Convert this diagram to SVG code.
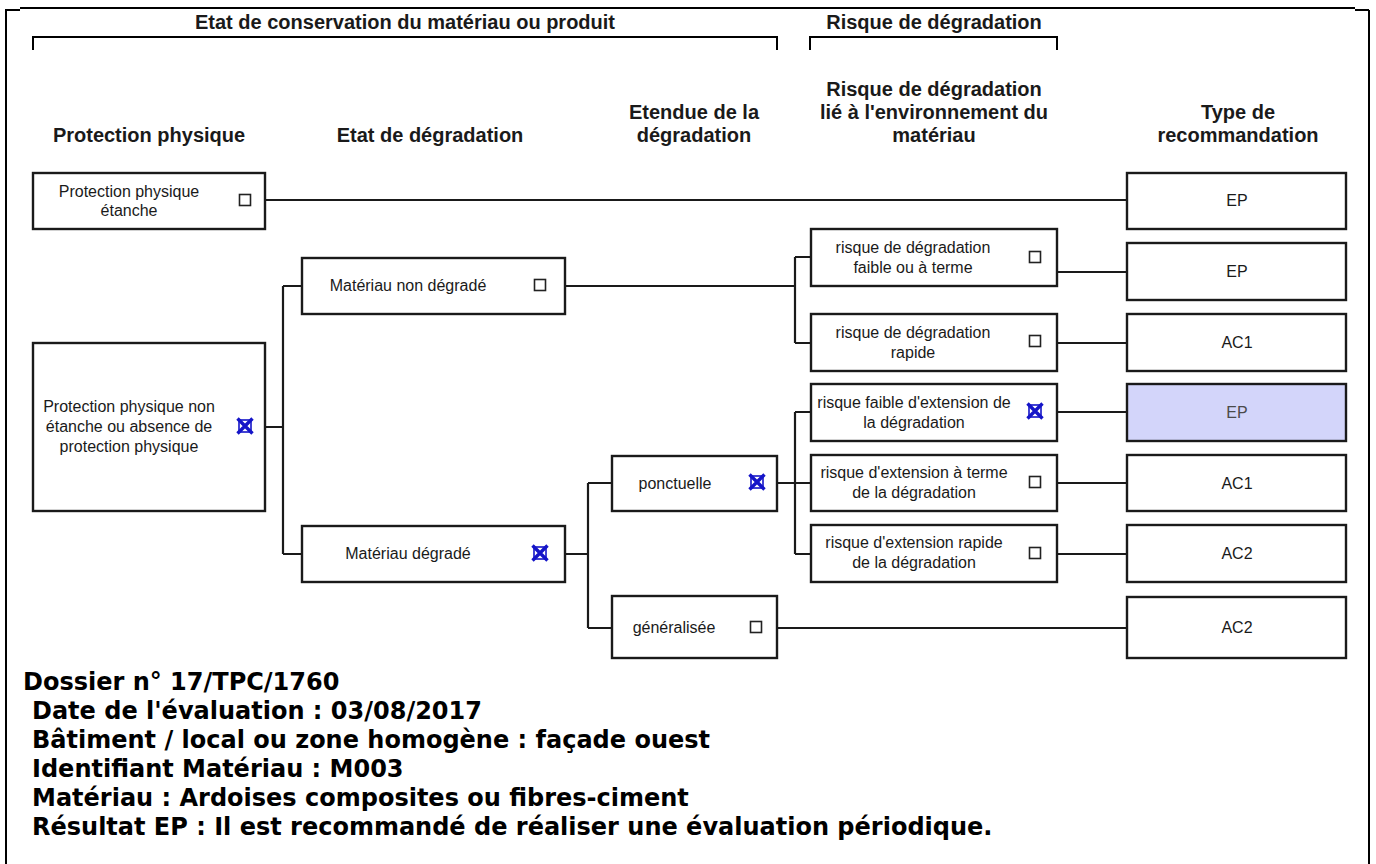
<svg xmlns="http://www.w3.org/2000/svg" width="1376" height="864" viewBox="0 0 1376 864">
<style>
.box{fill:#fff;stroke:#1a1a1a;stroke-width:2.4}
.hl{fill:#d3d5fa}
.t{font-family:"Liberation Sans",Arial,sans-serif;font-size:16px;fill:#1a1a1a;text-anchor:middle}
.g{fill:#4a4a4a}
.h{font-family:"Liberation Sans",Arial,sans-serif;font-size:20px;font-weight:bold;fill:#1a1a1a;text-anchor:middle}
.c{fill:none;stroke:#1a1a1a;stroke-width:2.2}
.fr{fill:none;stroke:#000;stroke-width:2}
.info{font-family:"DejaVu Sans",Verdana,sans-serif;font-size:24px;font-weight:bold;fill:#000}
</style>
<defs>
<g id="cb"><rect x="-5.5" y="-5.5" width="11" height="11" fill="#fff" stroke="#222" stroke-width="1.6"/></g>
<g id="ck"><rect x="-6" y="-6" width="12" height="12" fill="none" stroke="#1515c8" stroke-width="1.6"/><path d="M-7.5,-7.5 L7.5,7.5 M7.5,-7.5 L-7.5,7.5" stroke="#1515c8" stroke-width="3.4"/></g>
</defs>
<rect width="1376" height="864" fill="#fff"/>
<g id="frame">
<path class="fr" d="M6,864 V10 H20 M20,8 H1355 M1355,10 H1369 M1369,10 V864"/>
</g>
<g id="headers">
<text class="h" x="405" y="29">Etat de conservation du matériau ou produit</text>
<path class="fr" d="M33,50 V37 H777 V50"/>
<text class="h" x="934" y="29">Risque de dégradation</text>
<path class="fr" d="M810,50 V37 H1057 V50"/>
<text class="h" x="149" y="142">Protection physique</text>
<text class="h" x="430" y="142">Etat de dégradation</text>
<text class="h" x="694" y="119">Etendue de la</text>
<text class="h" x="694" y="142">dégradation</text>
<text class="h" x="934" y="96">Risque de dégradation</text>
<text class="h" x="934" y="119">lié à l'environnement du</text>
<text class="h" x="934" y="142">matériau</text>
<text class="h" x="1238" y="119">Type de</text>
<text class="h" x="1238" y="142">recommandation</text>
</g>
<g id="connectors">
<path class="c" d="M265,200 H1127"/>
<path class="c" d="M265,427 H283 M283,286 V554 M283,286 H302 M283,554 H302"/>
<path class="c" d="M565,286 H795 M795,257 V343 M795,257 H811 M795,343 H811"/>
<path class="c" d="M565,554 H588 M588,483 V628 M588,483 H612 M588,628 H612"/>
<path class="c" d="M777,483 H795 M795,412 V554 M795,412 H811 M795,483 H811 M795,554 H811"/>
<path class="c" d="M777,628 H1127"/>
<path class="c" d="M1057,272 H1127 M1057,343 H1127 M1057,412 H1127 M1057,483 H1127 M1057,554 H1127"/>
</g>
<g id="n-pp-etanche">
<rect class="box" x="33" y="173" width="232" height="56"/>
<text class="t" x="129" y="197">Protection physique</text>
<text class="t" x="129" y="216">étanche</text>
<use href="#cb" x="245" y="200"/>
</g>
<g id="n-pp-non-etanche">
<rect class="box" x="33" y="343" width="232" height="168"/>
<text class="t" x="129" y="412">Protection physique non</text>
<text class="t" x="129" y="432">étanche ou absence de</text>
<text class="t" x="129" y="452">protection physique</text>
<use href="#ck" x="245" y="426"/>
</g>
<g id="n-non-degrade">
<rect class="box" x="302" y="258" width="263" height="56"/>
<text class="t" x="408" y="291">Matériau non dégradé</text>
<use href="#cb" x="540" y="285"/>
</g>
<g id="n-degrade">
<rect class="box" x="302" y="526" width="263" height="56"/>
<text class="t" x="408" y="559">Matériau dégradé</text>
<use href="#ck" x="540" y="553"/>
</g>
<g id="n-ponctuelle">
<rect class="box" x="612" y="456" width="165" height="55"/>
<text class="t" x="675" y="489">ponctuelle</text>
<use href="#ck" x="757" y="482"/>
</g>
<g id="n-generalisee">
<rect class="box" x="612" y="596" width="165" height="62"/>
<text class="t" x="674" y="633">généralisée</text>
<use href="#cb" x="756" y="627"/>
</g>
<g id="n-r1">
<rect class="box" x="811" y="229" width="246" height="57"/>
<text class="t" x="913" y="253">risque de dégradation</text>
<text class="t" x="913" y="273">faible ou à terme</text>
<use href="#cb" x="1035" y="257"/>
</g>
<g id="n-r2">
<rect class="box" x="811" y="314" width="246" height="57"/>
<text class="t" x="913" y="338">risque de dégradation</text>
<text class="t" x="913" y="358">rapide</text>
<use href="#cb" x="1035" y="341"/>
</g>
<g id="n-r3">
<rect class="box" x="811" y="384" width="246" height="57"/>
<text class="t" x="914" y="408">risque faible d'extension de</text>
<text class="t" x="914" y="428">la dégradation</text>
<use href="#ck" x="1035" y="411"/>
</g>
<g id="n-r4">
<rect class="box" x="811" y="455" width="246" height="56"/>
<text class="t" x="914" y="478">risque d'extension à terme</text>
<text class="t" x="914" y="498">de la dégradation</text>
<use href="#cb" x="1035" y="482"/>
</g>
<g id="n-r5">
<rect class="box" x="811" y="525" width="246" height="57"/>
<text class="t" x="914" y="548">risque d'extension rapide</text>
<text class="t" x="914" y="568">de la dégradation</text>
<use href="#cb" x="1035" y="553"/>
</g>
<g id="rec-1"><rect class="box" x="1127" y="173" width="219" height="56"/><text class="t" x="1237" y="206">EP</text></g>
<g id="rec-2"><rect class="box" x="1127" y="243" width="219" height="57"/><text class="t" x="1237" y="277">EP</text></g>
<g id="rec-3"><rect class="box" x="1127" y="314" width="219" height="57"/><text class="t" x="1237" y="348">AC1</text></g>
<g id="rec-4"><rect class="box hl" x="1127" y="384" width="219" height="57"/><text class="t g" x="1237" y="418">EP</text></g>
<g id="rec-5"><rect class="box" x="1127" y="455" width="219" height="56"/><text class="t" x="1237" y="489">AC1</text></g>
<g id="rec-6"><rect class="box" x="1127" y="525" width="219" height="57"/><text class="t" x="1237" y="559">AC2</text></g>
<g id="rec-7"><rect class="box" x="1127" y="597" width="219" height="61"/><text class="t" x="1237" y="633">AC2</text></g>
<g id="info">
<text class="info" x="23" y="690">Dossier n° 17/TPC/1760</text>
<text class="info" x="32" y="719">Date de l'évaluation : 03/08/2017</text>
<text class="info" x="32" y="748">Bâtiment / local ou zone homogène : façade ouest</text>
<text class="info" x="32" y="777">Identifiant Matériau : M003</text>
<text class="info" x="32" y="806">Matériau : Ardoises composites ou fibres-ciment</text>
<text class="info" x="32" y="835">Résultat EP : Il est recommandé de réaliser une évaluation périodique.</text>
</g>
</svg>
